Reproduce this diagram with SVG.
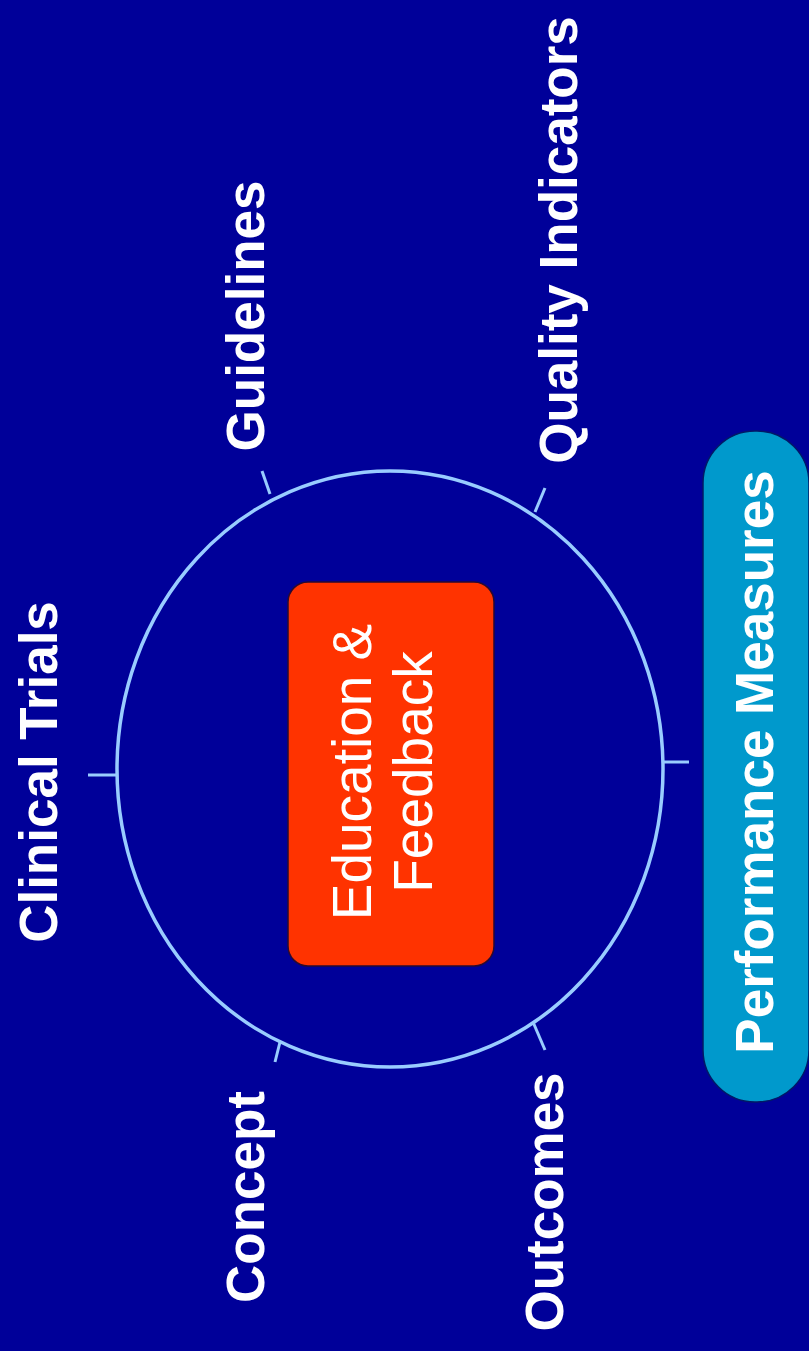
<svg xmlns="http://www.w3.org/2000/svg" width="809" height="1351" viewBox="0 0 809 1351">
<style>
.lbl{font-family:"Liberation Sans",Arial,sans-serif;font-weight:bold;font-size:53px;fill:#ffffff;text-anchor:middle}
.ctr{font-family:"Liberation Sans",Arial,sans-serif;font-size:55px;fill:#ffffff;text-anchor:middle}
.tick{stroke:#99ccff;stroke-width:3;fill:none}
</style>
<rect x="0" y="0" width="809" height="1351" fill="#000099"/>
<g id="cycle">
<ellipse cx="390" cy="769" rx="273" ry="298" fill="none" stroke="#99ccff" stroke-width="3.5"/>
</g>
<g id="connectors">
<line class="tick" x1="88" y1="775" x2="117" y2="775"/>
<line class="tick" x1="663" y1="762" x2="689" y2="762"/>
<line class="tick" x1="262" y1="471" x2="270" y2="494"/>
<line class="tick" x1="545" y1="488" x2="535" y2="512"/>
<line class="tick" x1="280" y1="1042" x2="275" y2="1062"/>
<line class="tick" x1="533" y1="1022" x2="545" y2="1050"/>
</g>
<g id="clinical-trials"><text class="lbl" transform="translate(57,772) rotate(-90)">Clinical Trials</text></g>
<g id="guidelines"><text class="lbl" transform="translate(264,316) rotate(-90)">Guidelines</text></g>
<g id="quality-indicators"><text class="lbl" transform="translate(577,240) rotate(-90)">Quality Indicators</text></g>
<g id="concept"><text class="lbl" transform="translate(264,1197) rotate(-90)">Concept</text></g>
<g id="outcomes"><text class="lbl" transform="translate(563,1202) rotate(-90)">Outcomes</text></g>
<g id="education-feedback">
<rect x="288" y="582" width="206" height="384" rx="20" fill="#ff3300" stroke="#2a0a30" stroke-width="1.5"/>
<text class="ctr" transform="translate(371,772) rotate(-90)">Education &amp;</text>
<text class="ctr" transform="translate(432,772) rotate(-90)">Feedback</text>
</g>
<g id="performance-measures">
<rect x="703" y="431" width="106" height="671" rx="52" fill="#0099cc" stroke="#001a66" stroke-width="1.5"/>
<text class="lbl" transform="translate(773,762) rotate(-90)">Performance Measures</text>
</g>
</svg>
